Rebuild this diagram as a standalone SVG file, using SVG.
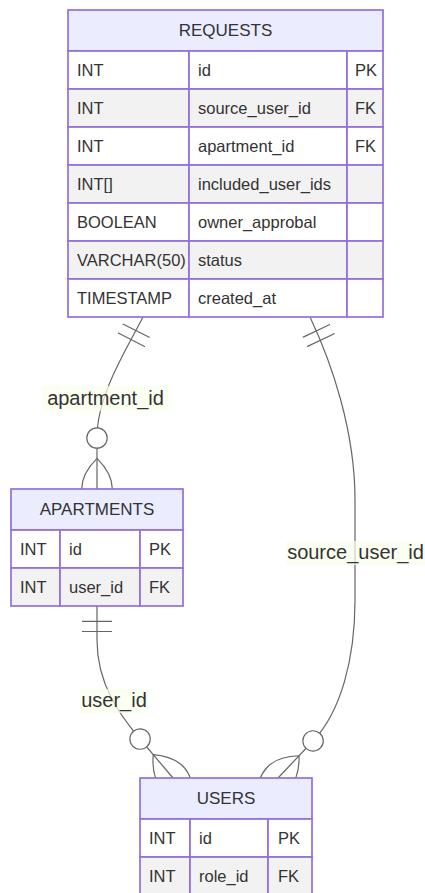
<svg xmlns="http://www.w3.org/2000/svg" width="425" height="893" viewBox="0 0 425 893">
  <style>
    .txt { font-family: "Liberation Sans", Arial, sans-serif; fill: #333333; }
    .title { font-size: 17px; text-anchor: middle; }
    .attr { font-size: 16.5px; }
    .lbl { font-size: 20px; text-anchor: middle; }
    .hdr { fill: #ECECFF; stroke: #9370DB; stroke-width: 1.7; }
    .odd { fill: #FFFFFF; stroke: #9370DB; stroke-width: 1.7; }
    .even { fill: #F2F2F2; stroke: #9370DB; stroke-width: 1.7; }
    .rel { fill: none; stroke: #666666; stroke-width: 1.2; }
    .lblbox { fill: hsl(80, 100%, 96.3%); opacity: 0.7; }
    .mk { fill: none; stroke: #666666; stroke-width: 0.7; }
    .mkc { fill: #FFFFFF; stroke: #666666; stroke-width: 0.7; }
  </style>
  <defs>
    <marker id="onlyOneStart" viewBox="0 0 18 18" markerUnits="userSpaceOnUse" markerWidth="30.6" markerHeight="30.6" refX="0" refY="9" orient="auto">
      <path class="mk" d="M9,0 L9,18 M15,0 L15,18"/>
    </marker>
    <marker id="zeroOrMoreEnd" viewBox="0 0 57 36" markerUnits="userSpaceOnUse" markerWidth="96.9" markerHeight="61.2" refX="39" refY="18" orient="auto">
      <circle class="mkc" cx="9" cy="18" r="6"/>
      <path class="mk" d="M21,18 Q39,0 57,18 Q39,36 21,18"/>
    </marker>
  </defs>

  <!-- relationship lines -->
  <g id="relationships">
    <path class="rel" d="M143,317 C127.1,348.2 97,395 97,437 L97,489" marker-start="url(#onlyOneStart)" marker-end="url(#zeroOrMoreEnd)"/>
    <path class="rel" d="M310,317 C331.4,362.3 355,430 355,500 L355,600 C355,660 340.5,712 313,741 L278,778" marker-start="url(#onlyOneStart)" marker-end="url(#zeroOrMoreEnd)"/>
    <path class="rel" d="M97,606 L97,640 C97,685 120.7,716 140,739 L173,778" marker-start="url(#onlyOneStart)" marker-end="url(#zeroOrMoreEnd)"/>

    <rect class="lblbox" x="42" y="386" width="127" height="25"/>
    <text class="txt lbl" x="105.5" y="405">apartment_id</text>
    <rect class="lblbox" x="286" y="541" width="139" height="24"/>
    <text class="txt lbl" x="355.5" y="559">source_user_id</text>
    <rect class="lblbox" x="80" y="689" width="68" height="24"/>
    <text class="txt lbl" x="114" y="707">user_id</text>
  </g>

  <!-- REQUESTS -->
  <g id="REQUESTS">
    <rect class="hdr" x="68" y="10" width="315" height="41"/>
    <text class="txt title" x="225.5" y="36">REQUESTS</text>

    <rect class="odd" x="68" y="51" width="121" height="38"/>
    <rect class="odd" x="189" y="51" width="158" height="38"/>
    <rect class="odd" x="347" y="51" width="36" height="38"/>
    <text class="txt attr" x="77" y="75.5">INT</text>
    <text class="txt attr" x="198" y="75.5">id</text>
    <text class="txt attr" x="355" y="75.5">PK</text>

    <rect class="even" x="68" y="89" width="121" height="38"/>
    <rect class="even" x="189" y="89" width="158" height="38"/>
    <rect class="even" x="347" y="89" width="36" height="38"/>
    <text class="txt attr" x="77" y="113.5">INT</text>
    <text class="txt attr" x="198" y="113.5">source_user_id</text>
    <text class="txt attr" x="355" y="113.5">FK</text>

    <rect class="odd" x="68" y="127" width="121" height="38"/>
    <rect class="odd" x="189" y="127" width="158" height="38"/>
    <rect class="odd" x="347" y="127" width="36" height="38"/>
    <text class="txt attr" x="77" y="151.5">INT</text>
    <text class="txt attr" x="198" y="151.5">apartment_id</text>
    <text class="txt attr" x="355" y="151.5">FK</text>

    <rect class="even" x="68" y="165" width="121" height="38"/>
    <rect class="even" x="189" y="165" width="158" height="38"/>
    <rect class="even" x="347" y="165" width="36" height="38"/>
    <text class="txt attr" x="77" y="189.5">INT[]</text>
    <text class="txt attr" x="198" y="189.5">included_user_ids</text>

    <rect class="odd" x="68" y="203" width="121" height="38"/>
    <rect class="odd" x="189" y="203" width="158" height="38"/>
    <rect class="odd" x="347" y="203" width="36" height="38"/>
    <text class="txt attr" x="77" y="227.5">BOOLEAN</text>
    <text class="txt attr" x="198" y="227.5">owner_approbal</text>

    <rect class="even" x="68" y="241" width="121" height="38"/>
    <rect class="even" x="189" y="241" width="158" height="38"/>
    <rect class="even" x="347" y="241" width="36" height="38"/>
    <text class="txt attr" x="77" y="265.5">VARCHAR(50)</text>
    <text class="txt attr" x="198" y="265.5">status</text>

    <rect class="odd" x="68" y="279" width="121" height="38"/>
    <rect class="odd" x="189" y="279" width="158" height="38"/>
    <rect class="odd" x="347" y="279" width="36" height="38"/>
    <text class="txt attr" x="77" y="303.5">TIMESTAMP</text>
    <text class="txt attr" x="198" y="303.5">created_at</text>
  </g>

  <!-- APARTMENTS -->
  <g id="APARTMENTS">
    <rect class="hdr" x="11" y="489" width="172" height="41"/>
    <text class="txt title" x="97" y="515">APARTMENTS</text>

    <rect class="odd" x="11" y="530" width="49" height="38"/>
    <rect class="odd" x="60" y="530" width="80" height="38"/>
    <rect class="odd" x="140" y="530" width="43" height="38"/>
    <text class="txt attr" x="20" y="554.5">INT</text>
    <text class="txt attr" x="69" y="554.5">id</text>
    <text class="txt attr" x="149" y="554.5">PK</text>

    <rect class="even" x="11" y="568" width="49" height="38"/>
    <rect class="even" x="60" y="568" width="80" height="38"/>
    <rect class="even" x="140" y="568" width="43" height="38"/>
    <text class="txt attr" x="20" y="592.5">INT</text>
    <text class="txt attr" x="69" y="592.5">user_id</text>
    <text class="txt attr" x="149" y="592.5">FK</text>
  </g>

  <!-- USERS -->
  <g id="USERS">
    <rect class="hdr" x="140" y="778" width="172" height="41"/>
    <text class="txt title" x="226" y="804">USERS</text>

    <rect class="odd" x="140" y="819" width="50" height="38"/>
    <rect class="odd" x="190" y="819" width="78" height="38"/>
    <rect class="odd" x="268" y="819" width="44" height="38"/>
    <text class="txt attr" x="149" y="843.5">INT</text>
    <text class="txt attr" x="199" y="843.5">id</text>
    <text class="txt attr" x="278" y="843.5">PK</text>

    <rect class="even" x="140" y="857" width="50" height="38"/>
    <rect class="even" x="190" y="857" width="78" height="38"/>
    <rect class="even" x="268" y="857" width="44" height="38"/>
    <text class="txt attr" x="149" y="881.5">INT</text>
    <text class="txt attr" x="199" y="881.5">role_id</text>
    <text class="txt attr" x="278" y="881.5">FK</text>
  </g>
</svg>
